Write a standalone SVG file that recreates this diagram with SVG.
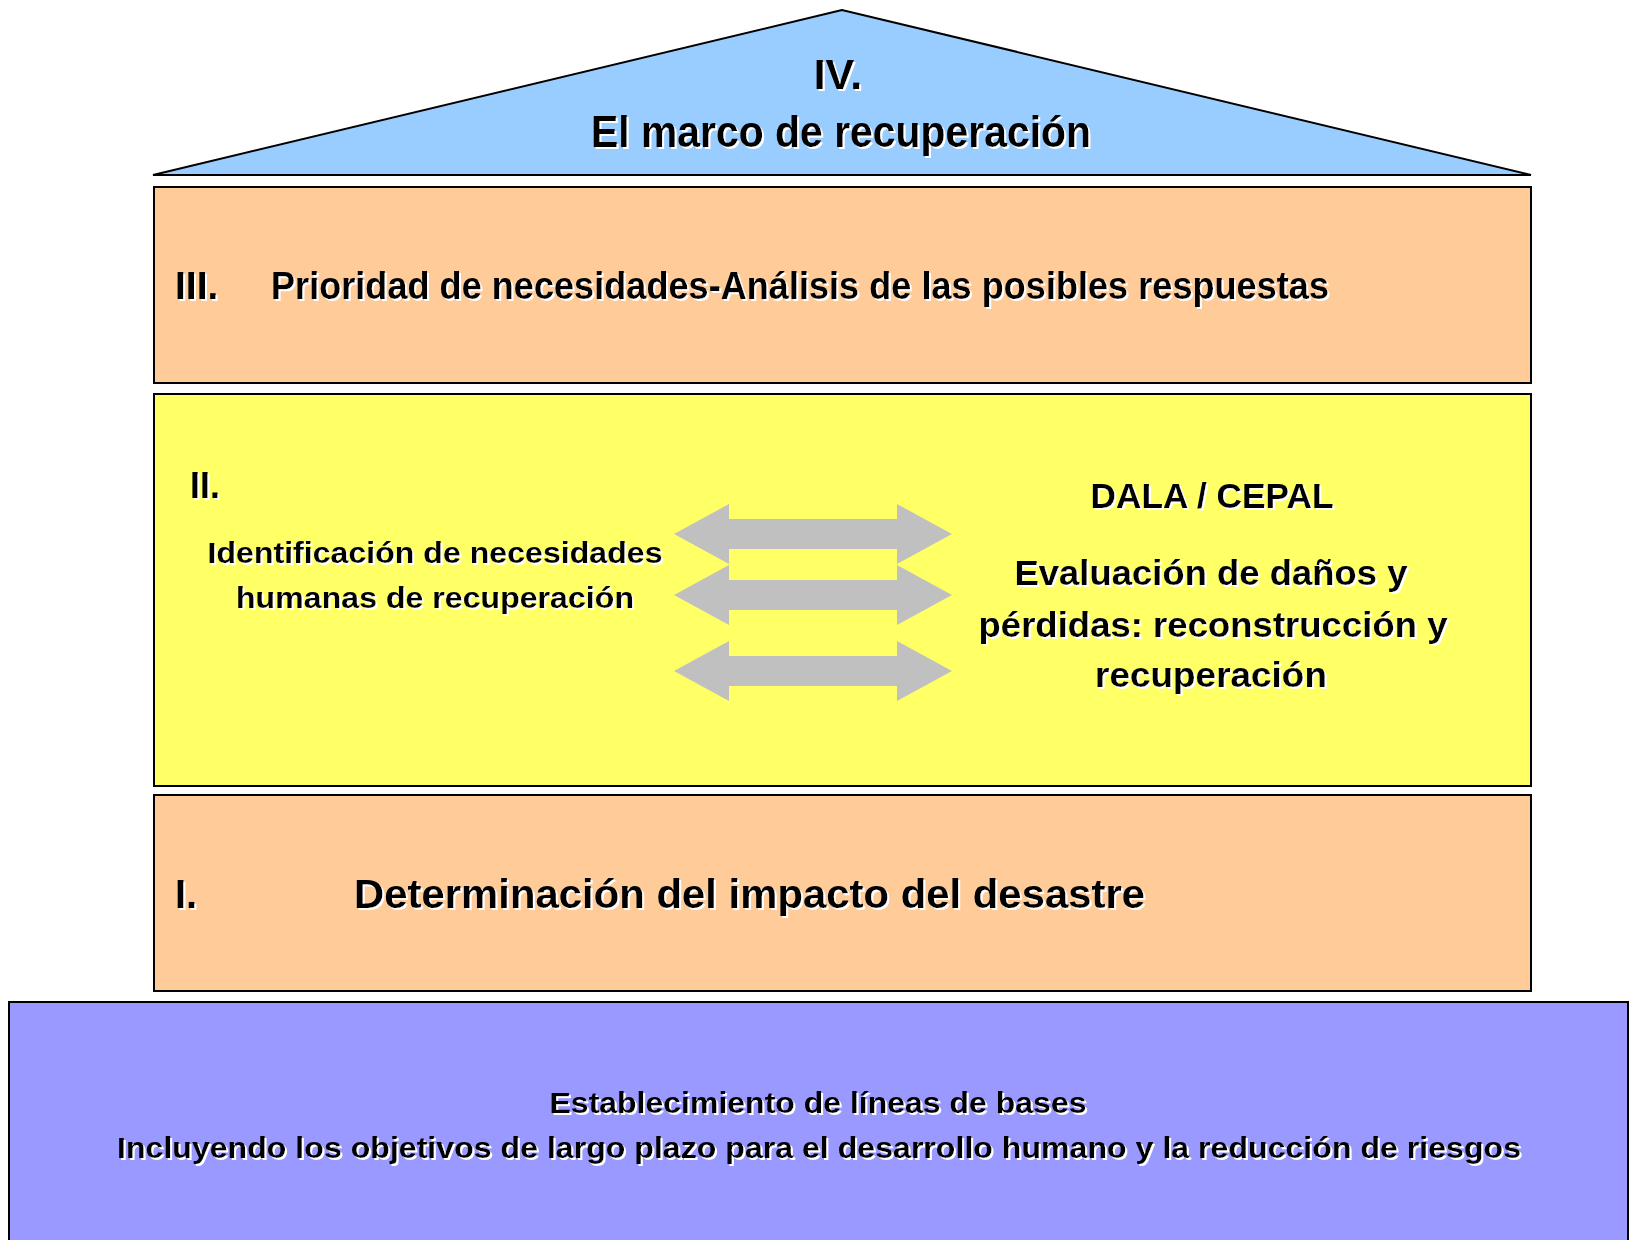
<svg xmlns="http://www.w3.org/2000/svg" width="1635" height="1240" viewBox="0 0 1635 1240">
<defs>
<filter id="ws" x="-5%" y="-20%" width="110%" height="150%">
<feDropShadow dx="2" dy="2" stdDeviation="0" flood-color="#ffffff" flood-opacity="1"/>
</filter>
<polygon id="darrow" points="0,0 55,-30 55,-15 223,-15 223,-30 278,0 223,30 223,15 55,15 55,30"/>
</defs>
<style>
.blk{stroke:#000;stroke-width:2}
.t{font-family:"Liberation Sans",Arial,sans-serif;font-weight:bold;fill:#000;filter:url(#ws)}
.c{text-anchor:middle}
.arr{fill:#C0C0C0}
</style>
<rect width="1635" height="1240" fill="#fff"/>

<g id="roof">
<polygon class="blk" points="842,10 153,175 1531,175" fill="#99CCFF"/>
<text class="t c" x="838" y="89" font-size="43">IV.</text>
<text class="t c" x="841" y="147" font-size="44" textLength="500" lengthAdjust="spacingAndGlyphs">El marco de recuperación</text>
</g>

<g id="level3">
<rect class="blk" x="154" y="187" width="1377" height="196" fill="#FFCC99"/>
<text class="t" x="175" y="299" font-size="39">III.</text>
<text class="t" x="271" y="299" font-size="39" textLength="1058" lengthAdjust="spacingAndGlyphs">Prioridad de necesidades-Análisis de las posibles respuestas</text>
</g>

<g id="level2">
<rect class="blk" x="154" y="394" width="1377" height="392" fill="#FFFF66"/>
<text class="t" x="190" y="498" font-size="36">II.</text>
<text class="t c" x="435" y="563" font-size="30" textLength="455" lengthAdjust="spacingAndGlyphs">Identificación de necesidades</text>
<text class="t c" x="435" y="608" font-size="30" textLength="398" lengthAdjust="spacingAndGlyphs">humanas de recuperación</text>
<text class="t c" x="1212" y="508" font-size="35" textLength="243" lengthAdjust="spacingAndGlyphs">DALA / CEPAL</text>
<text class="t c" x="1211" y="585" font-size="35" textLength="393" lengthAdjust="spacingAndGlyphs">Evaluación de daños y</text>
<text class="t c" x="1213" y="637" font-size="35" textLength="469" lengthAdjust="spacingAndGlyphs">pérdidas: reconstrucción y</text>
<text class="t c" x="1211" y="687" font-size="35" textLength="232" lengthAdjust="spacingAndGlyphs">recuperación</text>
</g>

<g id="connectors">
<use href="#darrow" class="arr" x="674" y="534"/>
<use href="#darrow" class="arr" x="674" y="595"/>
<use href="#darrow" class="arr" x="674" y="671"/>
</g>

<g id="level1">
<rect class="blk" x="154" y="795" width="1377" height="196" fill="#FFCC99"/>
<text class="t" x="175" y="908" font-size="40">I.</text>
<text class="t" x="354" y="908" font-size="40" textLength="791" lengthAdjust="spacingAndGlyphs">Determinación del impacto del desastre</text>
</g>

<g id="base">
<rect class="blk" x="9" y="1002" width="1619" height="250" fill="#9999FF"/>
<text class="t c" x="818" y="1113" font-size="30" textLength="537" lengthAdjust="spacingAndGlyphs">Establecimiento de líneas de bases</text>
<text class="t c" x="819" y="1158" font-size="30" textLength="1404" lengthAdjust="spacingAndGlyphs">Incluyendo los objetivos de largo plazo para el desarrollo humano y la reducción de riesgos</text>
</g>
</svg>
